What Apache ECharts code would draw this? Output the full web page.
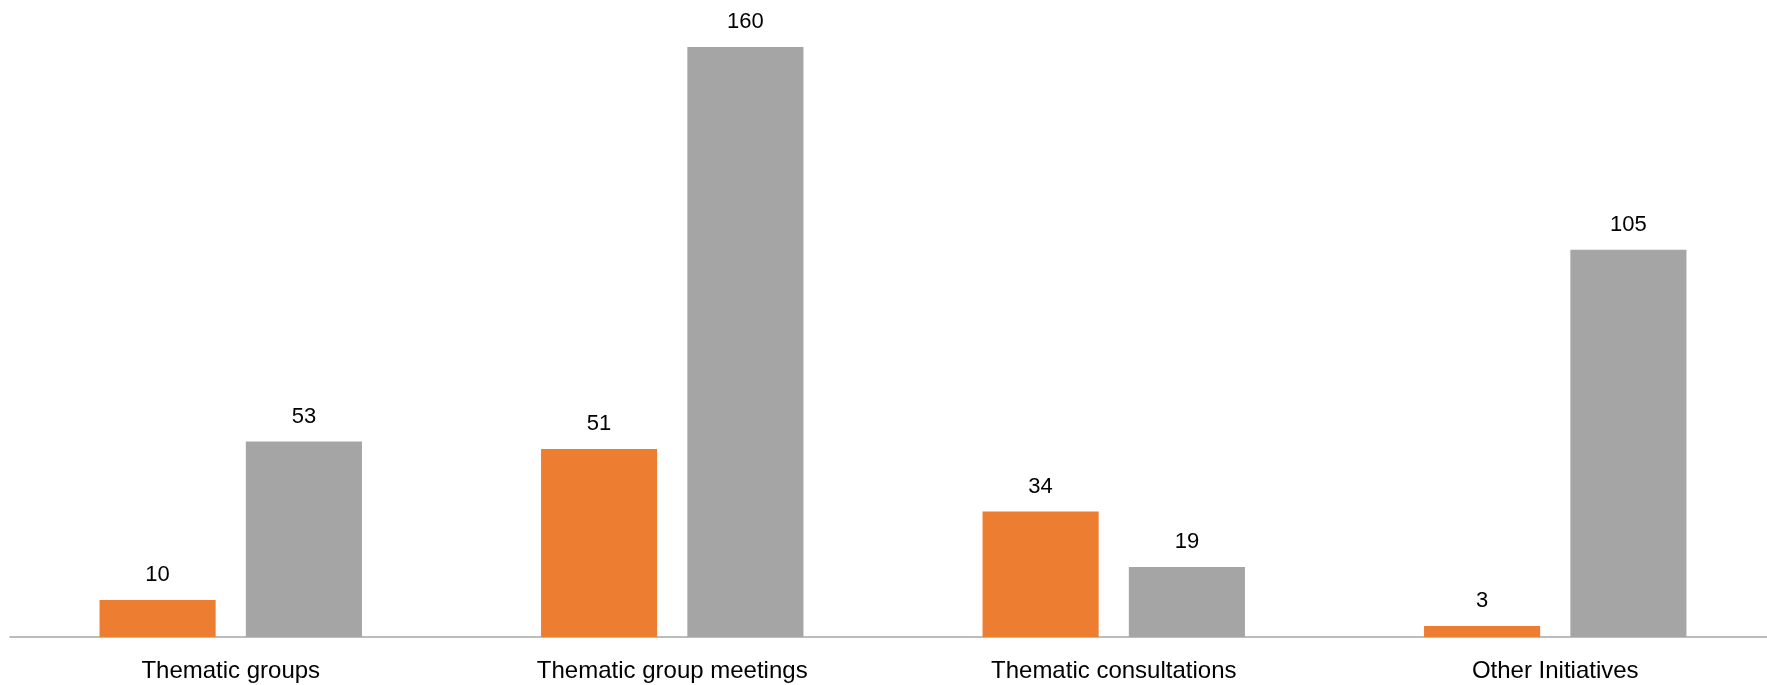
<!DOCTYPE html>
<html>
<head>
<meta charset="utf-8">
<script src="https://cdn.jsdelivr.net/npm/echarts@6/dist/echarts.min.js"></script>
<style>html,body{margin:0;padding:0;background:#fff;overflow:hidden;width:1767px;height:685px}#c{width:1776px;height:685px}</style>
</head>
<body>
<div id="c"></div>
<script>
const categories = ['Thematic groups', 'Thematic group meetings', 'Thematic consultations', 'Other Initiatives'];
const seriesA = [10, 51, 34, 3];
const seriesB = [53, 160, 19, 105];

const chart = echarts.init(document.getElementById('c'), null, {renderer: 'canvas'});
const font = '"Liberation Sans", Arial, sans-serif';
chart.setOption({
  animation: false,
  grid: {left: 10, right: 0, top: 10, bottom: 48, containLabel: false},
  xAxis: {
    type: 'category',
    data: categories,
    axisLine: {lineStyle: {color: '#A6A6A6', width: 1.5}},
    axisTick: {show: false},
    axisLabel: {color: '#000', fontSize: 24, fontFamily: font, margin: 22}
  },
  yAxis: {
    type: 'value', min: 0, max: 170,
    show: false, splitLine: {show: false}
  },
  series: [
    {
      type: 'bar', data: seriesA, barWidth: '26.3%', barGap: '26%',
      itemStyle: {color: '#ED7D31'},
      label: {show: true, position: 'top', distance: 14, color: '#000', fontSize: 22, fontFamily: font}
    },
    {
      type: 'bar', data: seriesB, barWidth: '26.3%', barGap: '26%',
      itemStyle: {color: '#A5A5A5'},
      label: {show: true, position: 'top', distance: 14, color: '#000', fontSize: 22, fontFamily: font}
    }
  ]
});
</script>
</body>
</html>
